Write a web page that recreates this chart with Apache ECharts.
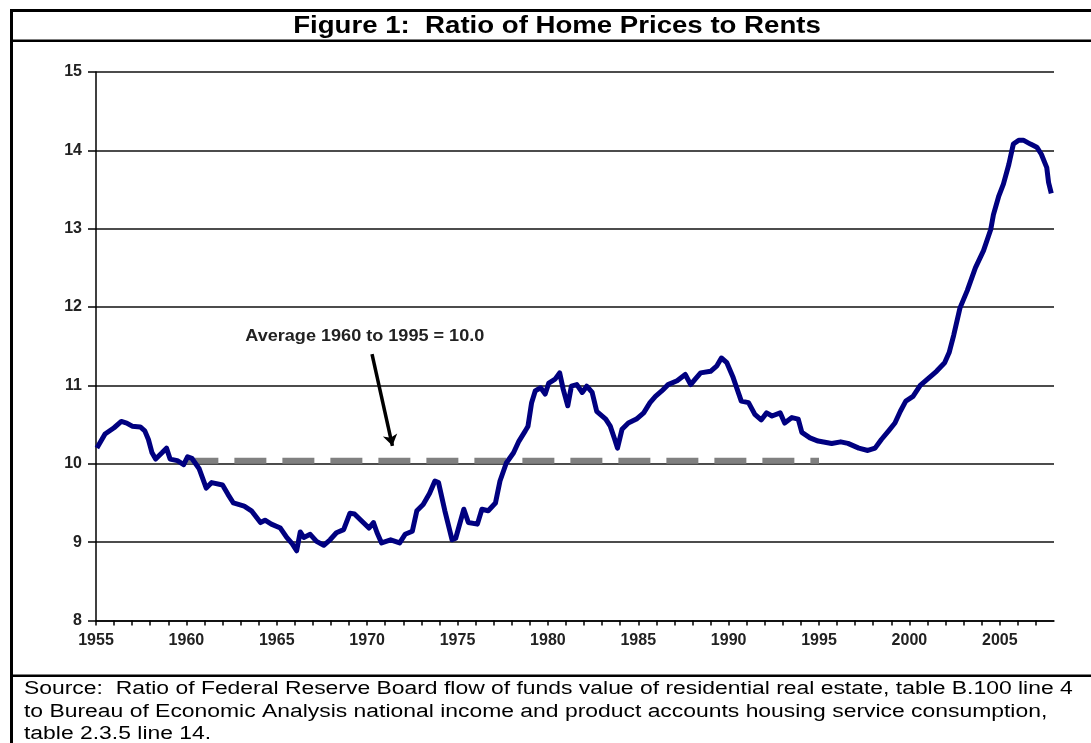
<!DOCTYPE html>
<html>
<head>
<meta charset="utf-8">
<script src="https://cdn.jsdelivr.net/npm/echarts@6/dist/echarts.min.js"></script>
<style>
    html, body { margin: 0; padding: 0; background: #fff; }
    #main { width: 1091px; height: 743px; }
</style>
</head>
<body>
<div id="main"></div>
<script>
// ratio of home prices to rents (fractional years)
var years = [
    1955.05, 1955.5, 1956.0, 1956.4, 1956.7, 1957.0, 1957.45, 1957.7, 1957.9, 1958.1,
    1958.3, 1958.65, 1958.9, 1959.1, 1959.5, 1959.85, 1960.07, 1960.3, 1960.7, 1961.1,
    1961.4, 1962.0, 1962.3, 1962.6, 1963.2, 1963.6, 1964.1, 1964.35, 1964.7, 1965.2,
    1965.55, 1965.85, 1966.1, 1966.3, 1966.5, 1966.85, 1967.2, 1967.6, 1967.95, 1968.3,
    1968.7, 1969.05, 1969.3, 1969.7, 1970.1, 1970.35, 1970.55, 1970.8, 1971.3, 1971.8,
    1972.1, 1972.5, 1972.75, 1973.1, 1973.45, 1973.75, 1973.95, 1974.3, 1974.7, 1974.9,
    1975.35, 1975.6, 1976.1, 1976.35, 1976.7, 1977.1, 1977.35, 1977.7, 1978.1, 1978.4,
    1978.75, 1978.9, 1979.1, 1979.3, 1979.6, 1979.85, 1980.05, 1980.4, 1980.65, 1980.85,
    1981.1, 1981.3, 1981.6, 1981.9, 1982.15, 1982.45, 1982.7, 1983.2, 1983.45, 1983.7,
    1983.85, 1984.1, 1984.45, 1984.9, 1985.3, 1985.65, 1985.95, 1986.3, 1986.65, 1987.15,
    1987.6, 1987.9, 1988.15, 1988.45, 1989.0, 1989.35, 1989.6, 1989.9, 1990.25, 1990.7,
    1991.1, 1991.45, 1991.8, 1992.1, 1992.4, 1992.85, 1993.1, 1993.5, 1993.85, 1994.05,
    1994.5, 1994.95, 1995.7, 1996.2, 1996.6, 1997.2, 1997.7, 1998.1, 1998.45, 1998.85,
    1999.2, 1999.5, 1999.8, 2000.2, 2000.6, 2001.05, 2001.5, 2001.95, 2002.2, 2002.45,
    2002.8, 2003.2, 2003.65, 2004.1, 2004.5, 2004.65, 2004.95, 2005.2, 2005.5, 2005.75,
    2006.05, 2006.3, 2006.7, 2007.05, 2007.3, 2007.6, 2007.7, 2007.85
];
var ratios = [
    10.20, 10.38, 10.46, 10.54, 10.52, 10.48, 10.47, 10.42, 10.31, 10.14,
    10.06, 10.14, 10.20, 10.06, 10.04, 9.99, 10.09, 10.07, 9.94, 9.69,
    9.76, 9.73, 9.61, 9.50, 9.46, 9.40, 9.25, 9.28, 9.23, 9.18,
    9.06, 8.98, 8.89, 9.13, 9.06, 9.10, 9.01, 8.96, 9.03, 9.12,
    9.16, 9.37, 9.36, 9.27, 9.18, 9.25, 9.12, 8.99, 9.03, 8.99,
    9.10, 9.14, 9.40, 9.48, 9.62, 9.78, 9.76, 9.40, 9.03, 9.05,
    9.42, 9.25, 9.23, 9.42, 9.40, 9.50, 9.78, 10.01, 10.14, 10.29,
    10.42, 10.48, 10.78, 10.93, 10.97, 10.89, 11.03, 11.08, 11.16, 10.95,
    10.74, 10.99, 11.01, 10.91, 10.99, 10.91, 10.67, 10.57, 10.48, 10.31,
    10.20, 10.44, 10.52, 10.57, 10.65, 10.78, 10.86, 10.93, 11.01, 11.06,
    11.14, 11.01, 11.08, 11.16, 11.18, 11.25, 11.35, 11.29, 11.10, 10.80,
    10.78, 10.63, 10.56, 10.65, 10.61, 10.65, 10.52, 10.59, 10.57, 10.40,
    10.33, 10.29, 10.26, 10.28, 10.26, 10.20, 10.17, 10.20, 10.31, 10.42,
    10.52, 10.67, 10.80, 10.86, 11.00, 11.09, 11.18, 11.29, 11.42, 11.64,
    11.99, 12.21, 12.50, 12.72, 12.99, 13.18, 13.42, 13.57, 13.82, 14.08,
    14.13, 14.13, 14.08, 14.04, 13.95, 13.78, 13.59, 13.45
];

// average 1960-1995 (dashed bar sits just above the 10 line in the figure)
var avgYears = [1960, 1995];
var avgValue = 10.04;

// axis labels
var xLabelYears = [1955, 1960, 1965, 1970, 1975, 1980, 1985, 1990, 1995, 2000, 2005];
var yLabels = [8, 9, 10, 11, 12, 13, 14, 15];

// annotation (data coords)
var annoText = 'Average 1960 to 1995 = 10.0';
var annoTextAt = [1969.87, 11.62];
var arrowFrom = [1970.27, 11.40];
var arrowTo = [1971.40, 10.23];

var titleText = 'Figure 1:  Ratio of Home Prices to Rents';
var sourceLines = [
    'Source:  Ratio of Federal Reserve Board flow of funds value of residential real estate, table B.100 line 4',
    'to Bureau of Economic Analysis national income and product accounts housing service consumption,',
    'table 2.3.5 line 14.'
];

var FONT = 'Arial, "Liberation Sans", Helvetica, sans-serif';

var myChart = echarts.init(document.getElementById('main'));

var option = {
    animation: false,
    backgroundColor: '#fff',
    grid: {
        left: 96,
        right: 37,
        top: 72,
        bottom: 122.5
    },
    xAxis: {
        type: 'value',
        min: 1955,
        max: 2008,
        interval: 1,
        axisLine: { show: true, lineStyle: { color: '#000', width: 1.5 } },
        axisTick: { show: true, length: 5, lineStyle: { color: '#000', width: 1.5 } },
        axisLabel: {
            margin: 12,
            color: '#222',
            fontFamily: FONT,
            fontSize: 16,
            fontWeight: 'bold',
            showMaxLabel: false,
            formatter: function (v) {
                return xLabelYears.indexOf(v) >= 0 ? String(v) : '';
            }
        },
        splitLine: { show: false }
    },
    yAxis: {
        type: 'value',
        min: 8,
        max: 15,
        interval: 1,
        axisLine: { show: true, lineStyle: { color: '#000', width: 1.5 } },
        axisTick: { show: true, length: 8, lineStyle: { color: '#000', width: 1.5 } },
        axisLabel: {
            margin: 14,
            color: '#222',
            fontFamily: FONT,
            fontSize: 16,
            fontWeight: 'bold',
            formatter: function (v) {
                return yLabels.indexOf(v) >= 0 ? String(v) : '';
            }
        },
        splitLine: { show: true, lineStyle: { color: '#111', width: 1.5 } }
    },
    series: [
        {
            name: 'average',
            type: 'line',
            data: avgYears.map(function (y) { return [y, avgValue]; }),
            symbol: 'none',
            silent: true,
            lineStyle: { color: '#808080', width: 6, type: [32, 16], cap: 'butt' },
            markLine: {
                silent: true,
                symbol: ['none', 'arrow'],
                symbolSize: 11,
                label: { show: false },
                lineStyle: { color: '#000', width: 3.5, type: 'solid' },
                data: [[{ coord: arrowFrom }, { coord: arrowTo }]]
            }
        },
        {
            name: 'ratio',
            type: 'line',
            data: years.map(function (y, i) { return [y, ratios[i]]; }),
            symbol: 'none',
            lineStyle: { color: '#000080', width: 5, join: 'round' }
        }
    ]
};

myChart.setOption(option);

// frame, title, source note and annotation text
var annoPos = myChart.convertToPixel({ gridIndex: 0 }, annoTextAt);
var graphics = [
    { type: 'rect', shape: { x: 10, y: 9, width: 1100, height: 3 }, style: { fill: '#000' } },
    { type: 'rect', shape: { x: 10, y: 9, width: 3, height: 740 }, style: { fill: '#000' } },
    { type: 'rect', shape: { x: 10, y: 39.5, width: 1100, height: 2.5 }, style: { fill: '#000' } },
    { type: 'rect', shape: { x: 10, y: 674.5, width: 1100, height: 2.5 }, style: { fill: '#000' } },
    {
        type: 'text', x: 557, y: 27, scaleX: 1.2,
        style: {
            text: titleText, fill: '#000', fontFamily: FONT, fontSize: 23, fontWeight: 'bold',
            textAlign: 'center', textVerticalAlign: 'middle'
        }
    },
    {
        type: 'text', x: annoPos[0], y: annoPos[1], scaleX: 1.13,
        style: {
            text: annoText, fill: '#222', fontFamily: FONT, fontSize: 16, fontWeight: 'bold',
            textAlign: 'center', textVerticalAlign: 'middle'
        }
    }
];
sourceLines.forEach(function (line, i) {
    graphics.push({
        type: 'text', x: 24, y: 689 + i * 22.7, scaleX: 1.272,
        style: {
            text: line, fill: '#000', fontFamily: FONT, fontSize: 18,
            textAlign: 'left', textVerticalAlign: 'middle'
        }
    });
});
myChart.setOption({ graphic: graphics });
</script>
</body>
</html>
